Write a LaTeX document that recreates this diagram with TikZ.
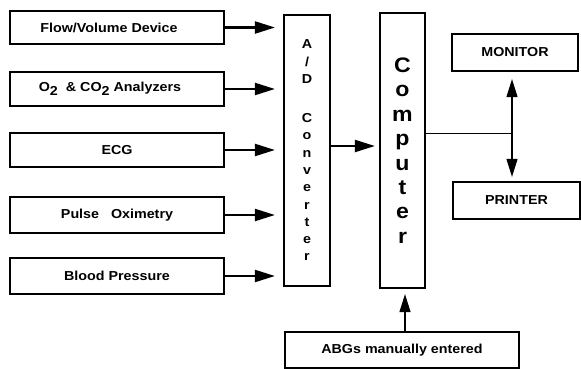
\documentclass[tikz,border=0pt]{standalone}
\usepackage{fontspec}
\setmainfont[FakeStretch=1.1]{Liberation Sans}
\usetikzlibrary{arrows.meta}
\begin{document}
\begin{tikzpicture}[x=1pt,y=-1pt,
  blk/.style={draw=black,line width=2.2pt,fill=white,inner sep=0pt,
    font=\fontsize{13}{15}\selectfont\bfseries,align=center},
  inbox/.style={blk,minimum width=214pt},
  bigarr/.style={line width=2.2pt,-{Triangle[length=20pt,width=12pt]},shorten >=8pt},
  thinarr/.style={line width=1.3pt,-{Triangle[length=18pt,width=11pt]}},
]
\useasboundingbox (0,0) rectangle (581,369);
\node[inbox,minimum height=33pt] (flow) at (117,27.5) {\hspace*{-16pt}Flow/Volume Device};
\node[inbox,minimum height=34pt] (o2) at (117,89) {\hspace*{-14pt}O\raisebox{-3.5pt}{2}\ \ \& CO\raisebox{-3.5pt}{2} Analyzers};
\node[inbox,minimum height=34pt] (ecg) at (117,150) {ECG};
\node[inbox,minimum height=36pt] (pulse) at (117,215) {Pulse\ \ \ Oximetry};
\node[inbox,minimum height=36pt] (blood) at (117,276) {Blood Pressure};

\node[blk,minimum width=46pt,minimum height=271pt,font=\fontsize{13}{17.3}\selectfont\bfseries] (ad) at (307,150.5)
  {A\\/\\D\\[21.7pt]C\\o\\n\\v\\e\\r\\t\\e\\r};
\node[blk,minimum width=45pt,minimum height=275pt,font=\fontsize{21}{24.4}\selectfont\bfseries] (comp) at (402.5,150.5)
  {C\\o\\m\\p\\u\\t\\e\\r};

\node[blk,minimum width=126pt,minimum height=37pt] (mon) at (515,52.5) {MONITOR};
\node[blk,minimum width=127pt,minimum height=37pt] (prn) at (516.5,200.5) {PRINTER};
\node[blk,minimum width=234pt,minimum height=36pt] (abg) at (402,350) {ABGs manually entered};

\foreach \n in {flow,o2,ecg,pulse,blood}
  \draw[bigarr] (\n.east) -- (\n.east -| ad.west);

\coordinate (adout) at (330,146);
\draw[bigarr,shorten >=4pt] (adout) -- (adout -| comp.west);

\coordinate (cout) at (425,133);
\coordinate (j) at (512,133);
\draw[line width=1pt] (cout) -- (j);
\draw[thinarr,shorten >=7pt] (j) -- (j |- mon.south);
\draw[thinarr,shorten >=4pt] (j) -- (j |- prn.north);

\coordinate (abgin) at (405,332);
\draw[thinarr,shorten >=5pt] (abgin) -- (abgin |- comp.south);
\end{tikzpicture}
\end{document}
